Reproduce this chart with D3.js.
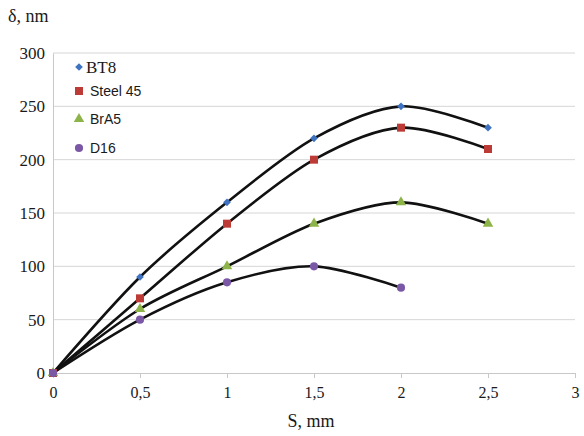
<!DOCTYPE html>
<html>
<head>
<meta charset="utf-8">
<script src="https://cdn.jsdelivr.net/npm/d3@7"></script>
<style>
  body { margin: 0; background: #fff; }
  svg text { fill: #1a1a1a; }
</style>
</head>
<body>
<svg id="chart" width="584" height="436"></svg>
<script>
// chart data
var xTicks = [0, 0.5, 1, 1.5, 2, 2.5, 3];
var yTicks = [0, 50, 100, 150, 200, 250, 300];
var bt8 = [[0, 0], [0.5, 90], [1, 160], [1.5, 220], [2, 250], [2.5, 230]];
var steel45 = [[0, 0], [0.5, 70], [1, 140], [1.5, 200], [2, 230], [2.5, 210]];
var bra5 = [[0, 0], [0.5, 60], [1, 100], [1.5, 140], [2, 160], [2.5, 140]];
var d16 = [[0, 0], [0.5, 50], [1, 85], [1.5, 100], [2, 80]];
var seriesNames = ["BT8", "Steel 45", "BrA5", "D16"];

var SERIF = "Liberation Serif";
var SANS = "Liberation Sans";

var series = [
    { name: seriesNames[0], values: bt8, color: "#3f73c2", shape: d3.symbolSquare, size: 30, rot: 45, font: SERIF, fs: 17 },
    { name: seriesNames[1], values: steel45, color: "#bd3b37", shape: d3.symbolSquare, size: 64, rot: 0, font: SANS, fs: 14 },
    { name: seriesNames[2], values: bra5, color: "#8db449", shape: d3.symbolTriangle, size: 48, rot: 0, font: SANS, fs: 14 },
    { name: seriesNames[3], values: d16, color: "#7b58a6", shape: d3.symbolCircle, size: 52, rot: 0, font: SANS, fs: 14 }
];

var svg = d3.select("#chart");

var x = d3.scaleLinear().domain([0, 3]).range([53, 575]);
var y = d3.scaleLinear().domain([0, 300]).range([373, 53]);

// horizontal gridlines
svg.selectAll("line.grid")
    .data(yTicks.slice(1))
    .enter().append("line")
    .attr("class", "grid")
    .attr("x1", x(0)).attr("x2", x(3))
    .attr("y1", function (d) { return y(d); })
    .attr("y2", function (d) { return y(d); })
    .style("stroke", "#d6d6d6")
    .style("stroke-width", 1);

// x axis
var xAxis = svg.append("g")
    .attr("transform", "translate(0," + y(0) + ")")
    .call(d3.axisBottom(x).tickValues(xTicks).tickSize(5)
        .tickFormat(function (d) { return String(d).replace(".", ","); }));
xAxis.attr("font-family", SERIF).attr("font-size", 16);
xAxis.select(".domain").style("stroke", "#c8c8c8");
xAxis.selectAll(".tick line").style("stroke", "#c8c8c8");
xAxis.selectAll(".tick text")
    .attr("dy", "1em").attr("y", 9)
    .style("font-family", SERIF)
    .style("font-size", "16px");

// y axis
var yAxis = svg.append("g")
    .attr("transform", "translate(" + x(0) + ",0)")
    .call(d3.axisLeft(y).tickValues(yTicks).tickSize(0));
yAxis.attr("font-family", SERIF).attr("font-size", 17);
yAxis.select(".domain").style("stroke", "#c8c8c8");
yAxis.selectAll(".tick text")
    .attr("x", -8)
    .style("font-family", SERIF)
    .style("font-size", "17px");

// axis titles
svg.append("text")
    .attr("x", 8).attr("y", 22)
    .style("font-family", SERIF)
    .style("font-size", "18px")
    .text("δ, nm");

svg.append("text")
    .attr("x", 311).attr("y", 427)
    .attr("text-anchor", "middle")
    .style("font-family", SERIF)
    .style("font-size", "18px")
    .text("S, mm");

// curves
var line = d3.line()
    .x(function (d) { return x(d[0]); })
    .y(function (d) { return y(d[1]); })
    .curve(d3.curveCardinal.tension(0.1));

svg.selectAll("path.curve")
    .data(series)
    .enter().append("path")
    .attr("class", "curve")
    .attr("d", function (d) { return line(d.values); })
    .style("fill", "none")
    .style("stroke", "#111")
    .style("stroke-width", 2.6);

// markers
series.forEach(function (s) {
    svg.selectAll(null)
        .data(s.values)
        .enter().append("path")
        .attr("transform", function (d) { return "translate(" + x(d[0]) + "," + y(d[1]) + ") rotate(" + s.rot + ")"; })
        .attr("d", d3.symbol().type(s.shape).size(s.size))
        .style("fill", s.color);
});

// legend
var legendY = [67, 91, 119, 148];
series.forEach(function (s, i) {
    var g = svg.append("g")
        .attr("transform", "translate(79," + legendY[i] + ")");
    g.append("path")
        .attr("transform", "rotate(" + s.rot + ")")
        .attr("d", d3.symbol().type(s.shape).size(s.size)())
        .style("fill", s.color);
    g.append("text")
        .attr("x", i === 0 ? 7 : 11)
        .attr("dy", "0.35em")
        .style("font-family", s.font)
        .style("font-size", s.fs + "px")
        .text(s.name);
});
</script>
</body>
</html>
